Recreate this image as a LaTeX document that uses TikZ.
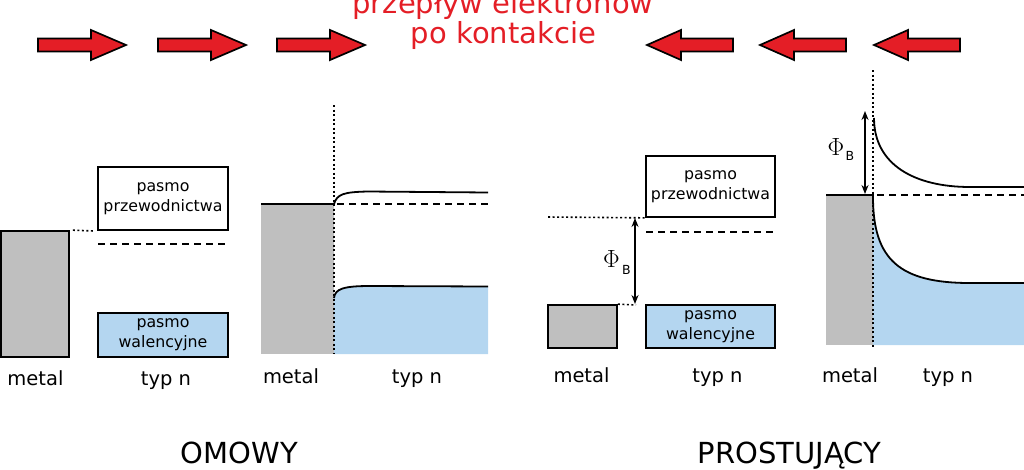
\documentclass[tikz,border=0pt]{standalone}
\usepackage{fontspec}
\setmainfont{DejaVu Sans}
\usetikzlibrary{arrows.meta}
\definecolor{metalgray}{RGB}{191,191,191}
\definecolor{bandblue}{RGB}{180,214,240}
\definecolor{flowred}{RGB}{228,30,38}
\begin{document}
\begin{tikzpicture}[x=1pt,y=-1pt,
  band/.style={draw=black, line width=1.7pt, inner sep=0pt, align=center, font=\fontsize{15.8}{20}\selectfont},
  metalbox/.style={draw=black, fill=metalgray, line width=1.7pt, inner sep=0pt},
  lab/.style={font=\fontsize{19.5}{23}\selectfont, anchor=base, inner sep=0pt},
  big/.style={font=\fontsize{29}{34}\selectfont, anchor=base, inner sep=0pt},
  title/.style={font=\fontsize{29}{30}\selectfont, text=flowred, anchor=base, inner sep=0pt},
  dotline/.style={line width=1.6pt, dash pattern=on 2pt off 2.5pt},
  fermi/.style={line width=1.6pt, dash pattern=on 7pt off 5pt},
  curve/.style={line width=1.8pt},
  dbl/.style={line width=1.4pt, {Stealth[length=9pt,width=7pt]}-{Stealth[length=9pt,width=7pt]}},
  phi/.style={font=\fontsize{25.5}{26}\selectfont, inner sep=0pt},
  sub/.style={font=\fontsize{12.5}{13}\selectfont, inner sep=0pt},
  flow/.style={draw=black, fill=flowred, line width=1.7pt, line join=miter},
  rarrow/.pic={\path[flow] (0,-6.5) -- (53,-6.5) -- (53,-15) -- (88,0) -- (53,15) -- (53,6.5) -- (0,6.5) -- cycle;},
  larrow/.pic={\path[flow] (0,0) -- (34,-15) -- (34,-6.5) -- (86,-6.5) -- (86,6.5) -- (34,6.5) -- (34,15) -- cycle;}
]
\useasboundingbox (0,0) rectangle (1024,469);

% title and flow arrows
\node[title] (t1) at (503,13) {przepływ elektronów};
\node[title] (t2) at (503.5,43) {po kontakcie};
\pic at (38,45) {rarrow};
\pic at (158,45) {rarrow};
\pic at (277,45) {rarrow};
\pic at (647,45) {larrow};
\pic at (760,45) {larrow};
\pic at (874,45) {larrow};

% ---------- panel 1: ohmic, before contact ----------
\node[metalbox, minimum width=68pt, minimum height=126pt] (m1) at (35,294) {};
\node[band, minimum width=130pt, minimum height=63pt] (cb1) at (163,198.5) {pasmo\\przewodnictwa};
\node[band, fill=bandblue, minimum width=130pt, minimum height=44pt] (vb1) at (163,335) {pasmo\\walencyjne};
\coordinate (d1) at (94,231);
\draw[dotline] ([xshift=3pt]m1.north east) -- (d1);
\draw[fermi] (98,244) -- (228,244);
\node[lab] (ml1) at (35.5,385) {metal};
\node[lab] (nl1) at (166,385) {typ n};

% ---------- panel 2: ohmic, after contact ----------
\fill[metalgray] (261,204) rectangle (334,354);
\fill[bandblue] (334,298) .. controls (335,289) and (343,286) .. (370,286) -- (488,286.5) -- (488,354) -- (334,354) -- cycle;
\draw[curve] (334,298) .. controls (335,289) and (343,286) .. (370,286) -- (488,286.5);
\draw[curve] (261,204) -- (334,204) .. controls (337,194) and (344,192) .. (368,191.5) -- (488,192.5);
\draw[fermi] (337,204) -- (488,204);
\draw[dotline] (334,105) -- (334,354);
\node[lab] (ml2) at (291,383) {metal};
\node[lab] (nl2) at (417,383) {typ n};

% ---------- panel 3: rectifying, before contact ----------
\node[metalbox, minimum width=69pt, minimum height=43pt] (m3) at (582.5,326.5) {};
\node[band, minimum width=129pt, minimum height=61pt] (cb3) at (710.5,186.5) {pasmo\\przewodnictwa};
\node[band, fill=bandblue, minimum width=129pt, minimum height=43pt] (vb3) at (710.5,326.5) {pasmo\\walencyjne};
\coordinate (d3a) at (548,217);
\coordinate (d3b) at (636,305);
\draw[dotline] (d3a) -- (cb3.south west);
\draw[dotline] (m3.north east) -- (d3b);
\draw[fermi] (646,232) -- (775,232);
\coordinate (a3t) at (635,218);
\coordinate (a3b) at (635,304);
\draw[dbl] (a3t) -- (a3b);
\node[phi] (phi3) at (611.5,258.5) {$\Phi$};
\node[sub] (b3) at (626.5,269.5) {B};
\node[lab] (ml3) at (581.5,382) {metal};
\node[lab] (nl3) at (717.5,382) {typ n};

% ---------- panel 4: rectifying, after contact ----------
\fill[metalgray] (826,195) rectangle (873,345);
\fill[bandblue] (873,197) .. controls (873,260) and (900,283) .. (970,283) -- (1024,283) -- (1024,345) -- (873,345) -- cycle;
\draw[curve] (826,195) -- (873,195) -- (873,197) .. controls (873,260) and (900,283) .. (970,283) -- (1024,283);
\draw[curve] (874,118) .. controls (874,165) and (915,187) .. (970,187) -- (1024,187);
\draw[fermi] (877,195) -- (1024,195);
\draw[dotline] (873,70) -- (873,347);
\coordinate (a4t) at (865,111);
\coordinate (a4b) at (865,194);
\draw[dbl] (a4t) -- (a4b);
\node[phi] (phi4) at (836,146.5) {$\Phi$};
\node[sub] (b4) at (850,156) {B};
\node[lab] (ml4) at (850,382) {metal};
\node[lab] (nl4) at (948,382) {typ n};

% ---------- bottom labels ----------
\node[big] (om) at (239.5,463) {OMOWY};
\node[big] (pr) at (789.5,463) {PROSTUJĄCY};
\end{tikzpicture}
\end{document}
